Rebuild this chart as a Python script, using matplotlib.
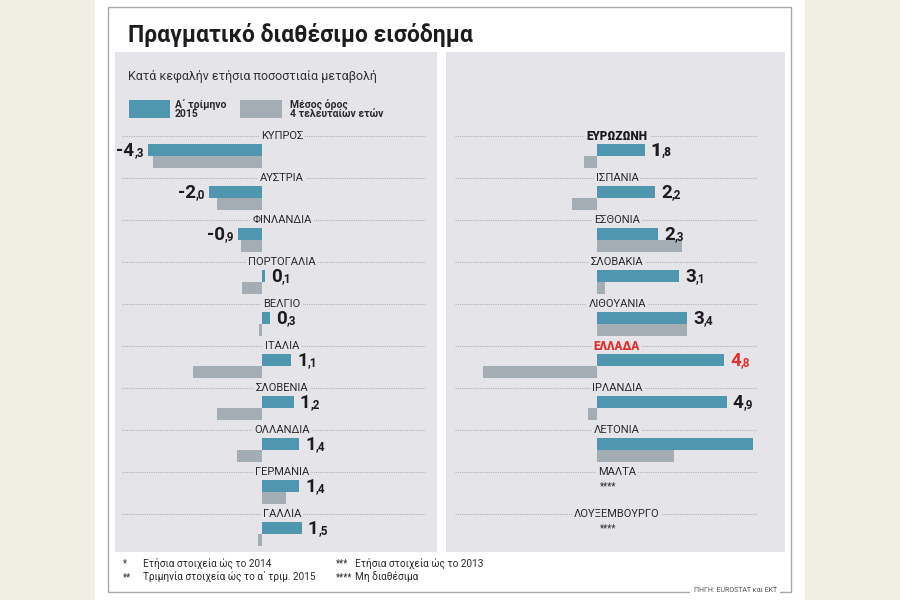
import numpy as np
import matplotlib
matplotlib.use("Agg")
import matplotlib.pyplot as plt
from matplotlib.patches import Rectangle
from matplotlib.transforms import offset_copy

plt.rcParams['font.family'] = ['Roboto', 'DejaVu Sans']

# data: per capita annual % change of real disposable income
left_names = ['ΚΥΠΡΟΣ', 'ΑΥΣΤΡΙΑ', 'ΦΙΝΛΑΝΔΙΑ', 'ΠΟΡΤΟΓΑΛΙΑ', 'ΒΕΛΓΙΟ',
              'ΙΤΑΛΙΑ', 'ΣΛΟΒΕΝΙΑ', 'ΟΛΛΑΝΔΙΑ', 'ΓΕΡΜΑΝΙΑ', 'ΓΑΛΛΙΑ']
left_q1 = [-4.3, -2.0, -0.9, 0.1, 0.3, 1.1, 1.2, 1.4, 1.4, 1.5]
left_avg = [-4.1, -1.7, -0.8, -0.75, -0.1, -2.6, -1.7, -0.95, 0.9, -0.15]

right_names = ['ΕΥΡΩΖΩΝΗ', 'ΙΣΠΑΝΙΑ', 'ΕΣΘΟΝΙΑ', 'ΣΛΟΒΑΚΙΑ', 'ΛΙΘΟΥΑΝΙΑ',
               'ΕΛΛΑΔΑ', 'ΙΡΛΑΝΔΙΑ', 'ΛΕΤΟΝΙΑ', 'ΜΑΛΤΑ', 'ΛΟΥΞΕΜΒΟΥΡΓΟ']
right_q1 = [1.8, 2.2, 2.3, 3.1, 3.4, 4.8, 4.9, 5.9, np.nan, np.nan]
right_avg = [-0.5, -0.95, 3.2, 0.3, 3.4, -4.3, -0.35, 2.9, np.nan, np.nan]
right_show = [True, True, True, True, True, True, True, False, False, False]

BLUE = '#4f97ae'
GREY = '#a3adb3'
PANEL = '#e5e5e9'
RED = '#e0302e'
DARK = '#1c1c1c'

W, H = 900, 600
S = 26.5      # px per unit
ROW = 42.0    # px per row

fig = plt.figure(figsize=(9, 6), dpi=100)
fig.patch.set_facecolor('#f1efe4')


def fx(x):
    return x / W


def fy(y):
    return 1 - y / H


fig.add_artist(Rectangle((fx(95), 0), fx(710), 1, transform=fig.transFigure,
                         facecolor='white', edgecolor='none', zorder=0))
fig.add_artist(Rectangle((fx(108), fy(592)), fx(683), (592 - 7) / H,
                         transform=fig.transFigure, facecolor='none',
                         edgecolor='#a9a9a9', lw=1.0, zorder=1))

fig.text(fx(128), fy(35), 'Πραγματικό διαθέσιμο εισόδημα', fontsize=16.5,
         fontweight='bold', color=DARK, va='center', ha='left')


def make_panel(x0, x1, zero):
    ax = fig.add_axes([fx(x0), fy(552), fx(x1 - x0), (552 - 52) / H])
    ax.set_facecolor(PANEL)
    ax.set_xlim((x0 - zero) / S, (x1 - zero) / S)
    ax.set_ylim((552 - 136) / ROW, (52 - 136) / ROW)
    for s in ax.spines.values():
        s.set_visible(False)
    ax.set_xticks([])
    ax.set_yticks([])
    return ax


axL = make_panel(115, 437, 262)
axR = make_panel(446, 785, 597)

renderer = fig.canvas.get_renderer()


def value_label(ax, v, row, color=DARK, weight='semibold'):
    s = f'{v:.1f}'.replace('.', ',')
    big, small = s.split(',')
    small = ',' + small
    y = row + 20 / ROW
    if v >= 0:
        t1 = ax.text(v, y, big, fontsize=13.5, fontweight=weight, color=color,
                     ha='left', va='baseline',
                     transform=offset_copy(ax.transData, fig, x=6, y=0, units='dots'))
        wb = t1.get_window_extent(renderer).width
        ax.text(v, y, small, fontsize=8.5, fontweight=weight, color=color,
                ha='left', va='baseline',
                transform=offset_copy(ax.transData, fig, x=6 + wb, y=0, units='dots'))
    else:
        t2 = ax.text(v, y, small, fontsize=8.5, fontweight=weight, color=color,
                     ha='right', va='baseline',
                     transform=offset_copy(ax.transData, fig, x=-4, y=0, units='dots'))
        ws = t2.get_window_extent(renderer).width
        ax.text(v, y, big, fontsize=13.5, fontweight=weight, color=color,
                ha='right', va='baseline',
                transform=offset_copy(ax.transData, fig, x=-4 - ws, y=0, units='dots'))


def draw_rows(ax, names, q1, avg, xmin, xmax, show=None):
    rows = np.arange(len(names))
    for r, name in zip(rows, names):
        ax.axhline(r, xmin=xmin, xmax=xmax, color='#b4b4b8', lw=0.8,
                   ls=(0, (1, 1)), zorder=1)
        color, weight, size = '#2a2a2a', 'normal', 8
        if name == 'ΕΛΛΑΔΑ':
            color, weight, size = RED, 'black', 8.5
        elif name == 'ΕΥΡΩΖΩΝΗ':
            color, weight, size = DARK, 'black', 8.5
        ax.text(20 / S, r, name, fontsize=size, color=color, fontweight=weight,
                ha='center', va='center', zorder=1.5,
                bbox=dict(facecolor=PANEL, edgecolor='none', pad=1.5))
    q1 = np.array(q1, dtype=float)
    avg = np.array(avg, dtype=float)
    ok = ~np.isnan(q1)
    ax.barh(rows[ok] + 14 / ROW, q1[ok], height=12 / ROW, color=BLUE, zorder=2)
    ax.barh(rows[ok] + 26 / ROW, avg[ok], height=12 / ROW, color=GREY, zorder=2)
    for r, name, v in zip(rows, names, q1):
        if np.isnan(v):
            ax.text(0.1, r + 14 / ROW, '****', fontsize=7, color='#2a2a2a',
                    ha='left', va='center')
            continue
        if show is not None and not show[r]:
            continue
        if name == 'ΕΛΛΑΔΑ':
            value_label(ax, v, r, color=RED)
        elif name == 'ΕΥΡΩΖΩΝΗ':
            value_label(ax, v, r, weight='black')
        else:
            value_label(ax, v, r)


draw_rows(axL, left_names, left_q1, left_avg, 0.022, 0.963)
draw_rows(axR, right_names, right_q1, right_avg, 0.027, 0.917, right_show)

# subtitle and legend
fig.text(fx(128), fy(76), 'Κατά κεφαλήν ετήσια ποσοστιαία μεταβολή',
         fontsize=9, color='#333333', ha='left', va='center')
fig.add_artist(Rectangle((fx(129), fy(118)), fx(41), 18 / H,
                         transform=fig.transFigure, facecolor=BLUE, edgecolor='none'))
fig.text(fx(175), fy(109), 'Α΄ τρίμηνο\n2015', fontsize=7.5, fontweight='bold',
         color='#2a2a2a', ha='left', va='center', linespacing=0.95)
fig.add_artist(Rectangle((fx(240), fy(118)), fx(42), 18 / H,
                         transform=fig.transFigure, facecolor=GREY, edgecolor='none'))
fig.text(fx(290), fy(109), 'Μέσος όρος\n4 τελευταίων ετών', fontsize=7.5,
         fontweight='bold', color='#2a2a2a', ha='left', va='center', linespacing=0.95)

# footnotes
notes = [(123, 143, 563, '*', 'Ετήσια στοιχεία ώς το 2014'),
         (123, 143, 577, '**', 'Τριμηνία στοιχεία ώς το α΄ τριμ. 2015'),
         (336, 355, 563, '***', 'Ετήσια στοιχεία ώς το 2013'),
         (336, 355, 577, '****', 'Μη διαθέσιμα')]
for xs, xt, y, star, txt in notes:
    fig.text(fx(xs), fy(y), star, fontsize=7, color='#2a2a2a', ha='left', va='center')
    fig.text(fx(xt), fy(y), txt, fontsize=7.2, color='#2a2a2a', ha='left', va='center')

fig.text(fx(777), fy(591), 'ΠΗΓΗ: EUROSTAT και ΕΚΤ', fontsize=5, color='#555555',
         ha='right', va='center', zorder=5,
         bbox=dict(facecolor='white', edgecolor='none', pad=2.5))

fig.savefig('out.png', dpi=100, facecolor=fig.get_facecolor())
